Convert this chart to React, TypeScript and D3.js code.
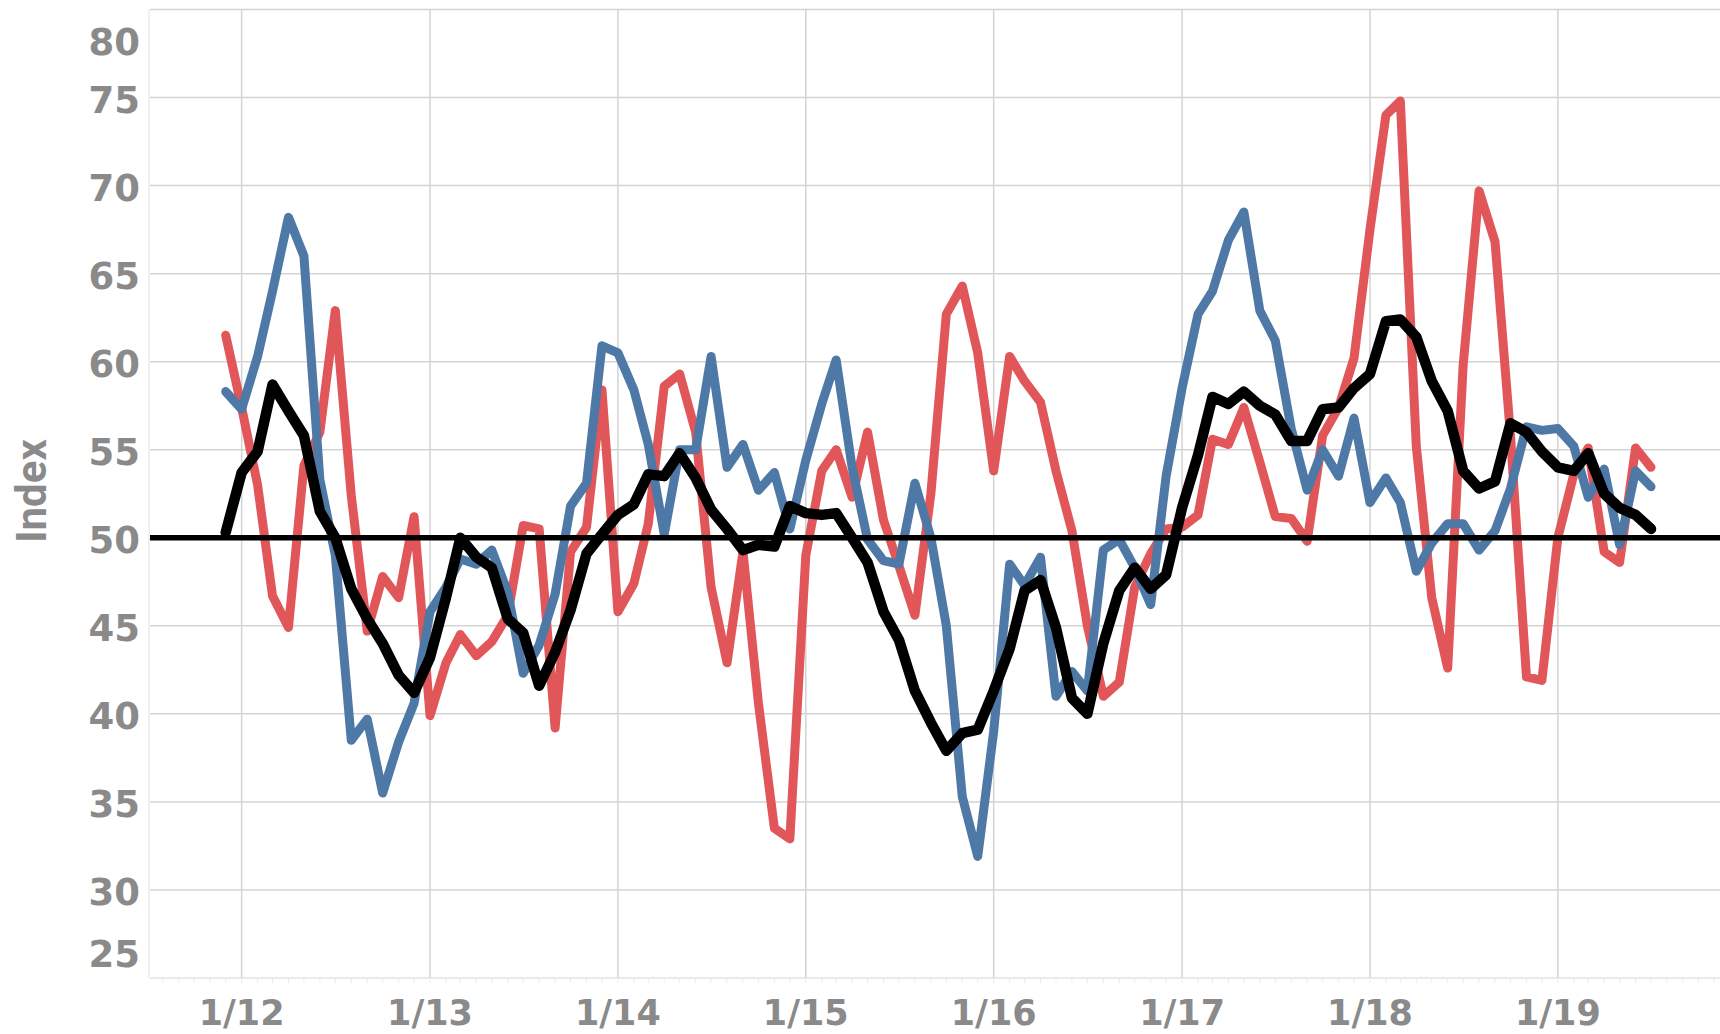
import React from "react";
import * as d3 from "d3";

// monthly readings, first point is Dec 2011
const startMonth = new Date(2011, 11, 1);

const redSeries = [
  61.5, 57.4, 53.0, 46.7, 44.9, 54.1, 56.0, 62.9, 52.4, 44.7, 47.8, 46.6,
  51.2, 39.9, 42.9, 44.5, 43.3, 44.1, 45.6, 50.7, 50.5, 39.2, 49.2, 50.6,
  58.4, 45.8, 47.4, 50.8, 58.6, 59.3, 56.0, 47.2, 42.9, 49.2, 40.6, 33.5,
  32.9, 49.0, 53.8, 55.0, 52.3, 56.0, 51.0, 48.4, 45.6, 52.5, 62.7, 64.3,
  60.5, 53.8, 60.3, 58.9, 57.7, 53.8, 50.4, 45.0, 41.0, 41.8, 47.2, 49.1,
  50.5, 50.6, 51.3, 55.6, 55.3, 57.4, 54.3, 51.2, 51.1, 49.8, 55.8, 57.4,
  60.2, 67.5, 74.0, 74.8, 55.2, 46.6, 42.6, 59.8, 69.7, 66.8, 55.8, 42.1,
  41.9, 50.0, 53.6, 55.1, 49.2, 48.6, 55.1, 54.0,
];

const blueSeries = [
  58.3, 57.3, 60.3, 64.0, 68.2, 66.0, 53.3, 49.0, 38.5, 39.7, 35.5, 38.4,
  40.6, 45.8, 47.2, 48.8, 48.5, 49.3, 46.9, 42.3, 43.9, 46.8, 51.8, 53.1,
  60.9, 60.5, 58.4, 55.3, 50.2, 55.0, 55.0, 60.3, 54.0, 55.3, 52.7, 53.7,
  50.5, 54.4, 57.6, 60.1, 54.0, 49.9, 48.7, 48.5, 53.1, 50.0, 45.0, 35.3,
  31.9, 39.0, 48.5, 47.3, 48.9, 41.0, 42.4, 41.3, 49.3, 49.9, 48.3, 46.2,
  53.5, 58.5, 62.7, 64.0, 66.9, 68.5, 62.9, 61.2, 56.2, 52.7, 55.0, 53.5,
  56.8, 52.0, 53.4, 52.0, 48.1, 49.7, 50.8, 50.8, 49.3, 50.4, 52.8, 56.3,
  56.1, 56.2, 55.2, 52.3, 53.9, 49.6, 53.8, 52.9,
];

const blackSeries = [
  50.3, 53.7, 54.9, 58.7, 57.2, 55.8, 51.5, 50.0, 47.1, 45.4, 44.0, 42.2,
  41.2, 43.2, 46.6, 50.0, 48.9, 48.3, 45.4, 44.6, 41.6, 43.5, 45.9, 49.1,
  50.2, 51.3, 51.9, 53.6, 53.5, 54.8, 53.4, 51.6, 50.5, 49.3, 49.6, 49.5,
  51.8, 51.4, 51.3, 51.4, 50.0, 48.6, 45.8, 44.2, 41.3, 39.5, 37.9, 38.9,
  39.1, 41.3, 43.7, 47.0, 47.6, 44.9, 40.9, 40.0, 44.0, 47.0, 48.3, 47.1,
  47.9, 51.7, 54.7, 58.0, 57.6, 58.3, 57.5, 57.0, 55.5, 55.5, 57.3, 57.4,
  58.5, 59.3, 62.3, 62.4, 61.4, 58.9, 57.2, 53.8, 52.8, 53.2, 56.5, 56.0,
  54.9, 54.0, 53.8, 54.8, 52.5, 51.7, 51.3, 50.5,
];

const yTicks = [25, 30, 35, 40, 45, 50, 55, 60, 65, 70, 75, 80];
const xTickYears = [2012, 2013, 2014, 2015, 2016, 2017, 2018, 2019];
const referenceValue = 50;

const W = 1720;
const H = 1034;
const left = 150;
const right = 1720;
const top = 9.5;
const bottom = 978;

const grey = "#8a8a8a";
const gridColor = "#d3d3d3";

export default function App() {
  const dates = d3.timeMonth.range(
    startMonth,
    d3.timeMonth.offset(startMonth, redSeries.length)
  );

  const x = d3
    .scaleTime()
    .domain([new Date(2011, 6, 7), new Date(2019, 10, 12)])
    .range([left, right]);

  const y = d3.scaleLinear().domain([25, 80]).range([bottom, top]);

  const line = d3
    .line<number>()
    .x((_, i) => x(dates[i]))
    .y((d) => y(d));

  const xTicks = xTickYears.map((yr) => new Date(yr, 0, 1));
  const monthTicks = d3.timeMonth.range(x.domain()[0], x.domain()[1]);
  const fmt = d3.timeFormat("%-m/%y");

  return (
    <svg
      width={W}
      height={H}
      style={{ position: "absolute", left: 0, top: 0, background: "#fff" }}
    >
      {/* frame */}
      <line x1={left - 1} x2={left - 1} y1={top} y2={bottom} stroke="#ececec" strokeWidth={1.5} />

      {/* horizontal grid */}
      {yTicks
        .filter((v) => v > 25)
        .map((v) => (
          <line key={v} x1={left} x2={right} y1={y(v)} y2={y(v)} stroke={gridColor} strokeWidth={1.5} />
        ))}

      {/* vertical grid */}
      {xTicks.map((d) => (
        <line key={d.getTime()} x1={x(d)} x2={x(d)} y1={top} y2={bottom} stroke={gridColor} strokeWidth={1.5} />
      ))}

      {/* bottom axis + faint month ticks */}
      <line x1={left} x2={right} y1={bottom} y2={bottom} stroke="#e3e3e3" strokeWidth={1.5} />
      {monthTicks.map((d) => (
        <line key={d.getTime()} x1={x(d)} x2={x(d)} y1={bottom} y2={bottom + 5} stroke="#ececec" strokeWidth={1} />
      ))}

      {/* series */}
      <path d={line(redSeries) ?? ""} fill="none" stroke="#e15759" strokeWidth={9} strokeLinejoin="round" strokeLinecap="round" />
      <path d={line(blueSeries) ?? ""} fill="none" stroke="#4e79a7" strokeWidth={9} strokeLinejoin="round" strokeLinecap="round" />

      <line
        x1={left}
        x2={right}
        y1={y(referenceValue)}
        y2={y(referenceValue)}
        stroke="#000"
        strokeWidth={5.5}
      />

      <path d={line(blackSeries) ?? ""} fill="none" stroke="#000" strokeWidth={10.5} strokeLinejoin="round" strokeLinecap="round" />

      {/* y tick labels */}
      {yTicks.map((v) => (
        <text
          key={v}
          x={140}
          y={Math.min(Math.max(y(v) + 15, 55), 967)}
          textAnchor="end"
          fontFamily="'DejaVu Sans', sans-serif"
          fontWeight="bold"
          fontSize={37}
          fill={grey}
        >
          {v}
        </text>
      ))}

      {/* x tick labels */}
      {xTicks.map((d) => (
        <text
          key={d.getTime()}
          x={x(d)}
          y={1025}
          textAnchor="middle"
          fontFamily="'DejaVu Sans', sans-serif"
          fontWeight="bold"
          fontSize={35}
          fill={grey}
        >
          {fmt(d)}
        </text>
      ))}

      {/* axis title */}
      <text
        transform={`translate(46, 491) rotate(-90)`}
        textAnchor="middle"
        fontFamily="Roboto, sans-serif"
        fontWeight="bold"
        fontSize={42}
        fill={grey}
      >
        Index
      </text>
    </svg>
  );
}
